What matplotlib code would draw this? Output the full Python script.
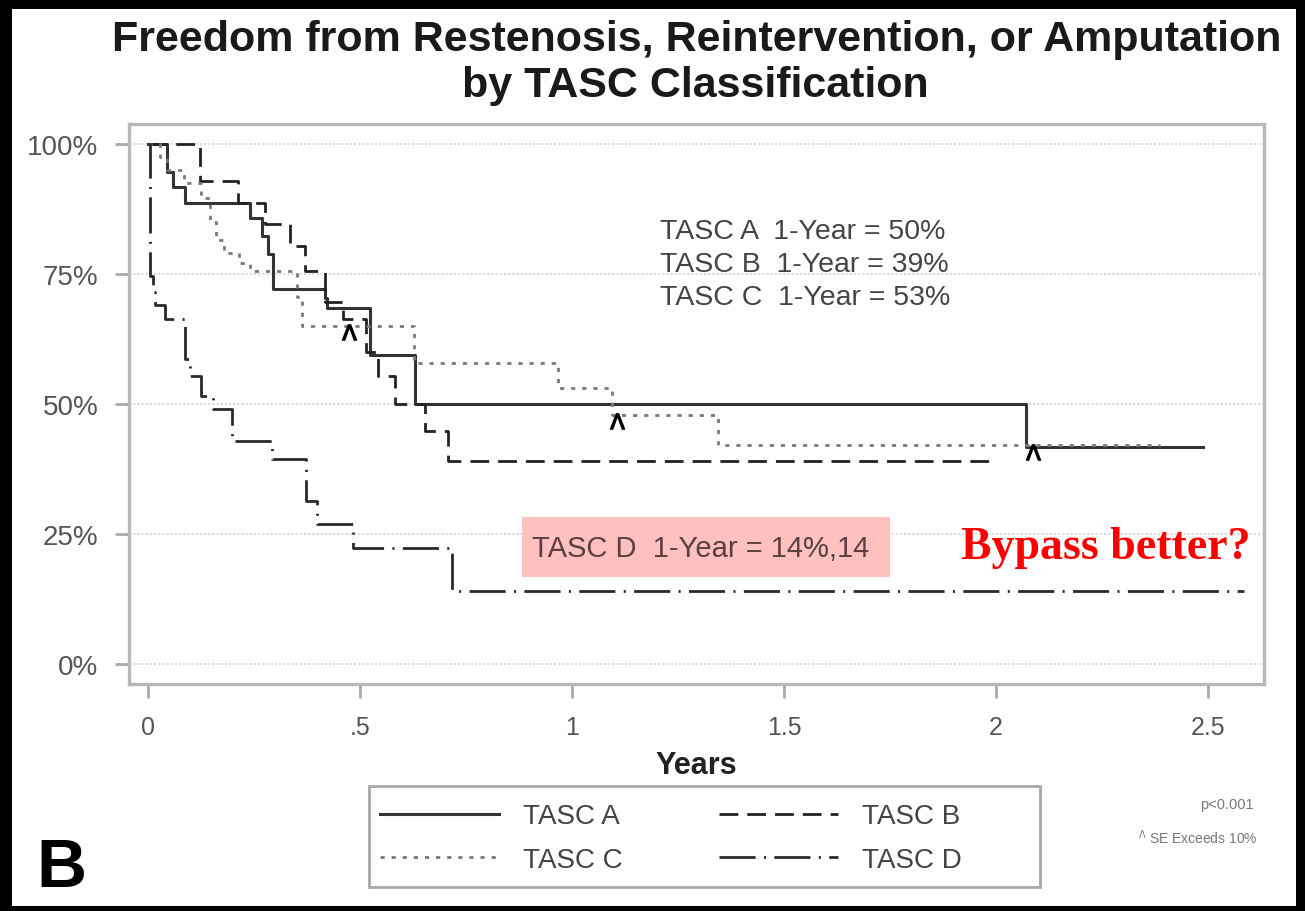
import matplotlib
matplotlib.use('Agg')
import matplotlib.pyplot as plt
from matplotlib.patches import Rectangle
from matplotlib.lines import Line2D

plt.rcParams['font.family'] = ['Liberation Sans', 'DejaVu Sans']
plt.rcParams['lines.scale_dashes'] = False

# Kaplan-Meier steps: time in years, freedom from event in %
a_t = [0, 0.045, 0.059, 0.087, 0.241, 0.269, 0.283, 0.295, 0.417, 0.422, 0.524, 0.630, 2.071, 2.488]
a_s = [100, 94.6, 91.7, 88.5, 85.6, 82.3, 78.8, 72.1, 70.2, 68.3, 59.3, 50, 41.7, 41.7]

b_t = [0, 0.123, 0.212, 0.276, 0.335, 0.370, 0.417, 0.460, 0.514, 0.542, 0.583, 0.653, 0.708, 1.99]
b_s = [100, 92.7, 88.5, 84.6, 80.2, 75.4, 69.5, 66.3, 60, 55.2, 50, 44.8, 39, 39]

c_t = [0, 0.028, 0.045, 0.085, 0.125, 0.146, 0.16, 0.18, 0.215, 0.24, 0.352, 0.363, 0.627, 0.967, 1.094, 1.344, 2.387]
c_s = [100, 97.5, 95, 92.5, 89.5, 85, 81.5, 79, 77, 75.5, 70.5, 65, 57.7, 53, 47.7, 42, 42]

d_t = [0, 0.004, 0.012, 0.017, 0.04, 0.087, 0.099, 0.125, 0.153, 0.198, 0.292, 0.372, 0.398, 0.483, 0.717, 2.585]
d_s = [100, 74.6, 71.5, 69, 66.3, 58.6, 55.2, 51.5, 49, 42.7, 39.4, 31.3, 26.9, 22.3, 14, 14]

# points where the standard error exceeds 10%
se_t = [0.474, 1.106, 2.087]
se_s = [63.8, 46.6, 40.6]

one_year = {'TASC A': 50, 'TASC B': 39, 'TASC C': 53, 'TASC D': 14}

x_ticks = [0, 0.5, 1, 1.5, 2, 2.5]
x_labels = ['0', '.5', '1', '1.5', '2', '2.5']
y_ticks = [0, 25, 50, 75, 100]
y_labels = ['0%', '25%', '50%', '75%', '100%']

W, H = 1305, 912
fig = plt.figure(figsize=(W / 100, H / 100), dpi=100, facecolor='white')
ax = fig.add_axes([129 / W, 1 - 685 / H, (1264 - 129) / W, (685 - 125) / H])

grid_col = '#d6d6d6'
for y in y_ticks:
    ax.axhline(y, color=grid_col, lw=1.3, ls=(0, (1.5, 1.5)), zorder=1)

styles = {
    'TASC A': dict(color='#333333', lw=2.2, ls='-'),
    'TASC B': dict(color='#222222', lw=2.0, ls=(0, (13.5, 6.5))),
    'TASC C': dict(color='#7a7a7a', lw=2.0, ls=(0, (3, 5))),
    'TASC D': dict(color='#2a2a2a', lw=2.0, ls=(0, (26, 6, 1.5, 6))),
}
series = {'TASC A': (a_t, a_s), 'TASC B': (b_t, b_s),
          'TASC C': (c_t, c_s), 'TASC D': (d_t, d_s)}
for name, (t, s) in series.items():
    ax.step(t, s, where='post', zorder=3, **styles[name])

ax.plot(se_t, se_s, ls='none', marker=r'$\Lambda$', ms=11, color='black', zorder=4)

ax.set_xlim(-0.0448, 2.632)
ax.set_ylim(-3.94, 103.75)
ax.set_xticks(x_ticks)
ax.set_xticklabels(x_labels)
ax.set_yticks(y_ticks)
ax.set_yticklabels(y_labels)
ax.tick_params(axis='both', colors='#aaaaaa', width=2, labelcolor='#555555')
ax.tick_params(axis='y', length=10, pad=12, labelsize=20)
ax.tick_params(axis='x', length=10, pad=12, labelsize=18)
for sp in ax.spines.values():
    sp.set_color('#b8b8b8')
    sp.set_linewidth(2.4)
ax.set_xlabel('Years', fontsize=22, fontweight='bold', color='#222222', labelpad=8)

# 1-year rates
for i, name in enumerate(['TASC A', 'TASC B', 'TASC C']):
    ax.text(1.208, 83.2 - i * 6.4, f'{name}  1-Year = {one_year[name]}%',
            fontsize=20.5, color='#444444', va='center', ha='left')

ax.add_patch(Rectangle((0.882, 16.7), 0.868, 11.5, facecolor='#ffc0c0',
                       edgecolor='none', zorder=2))
ax.text(0.906, 22.2, f"TASC D  1-Year = {one_year['TASC D']}%,14",
        fontsize=21, color='#5a4040', va='center', ha='left', zorder=5)
ax.text(2.60, 22.4, 'Bypass better?', fontsize=33, fontweight='bold',
        family=['Liberation Serif', 'DejaVu Serif'], color='#ff0000',
        va='center', ha='right', zorder=5)

# legend: frameless entries inside a hand-drawn box
handles = [Line2D([], [], **styles[n]) for n in ['TASC A', 'TASC C', 'TASC B', 'TASC D']]
leg = fig.legend(handles, ['TASC A', 'TASC C', 'TASC B', 'TASC D'], ncol=2,
                 loc='center left', bbox_to_anchor=(380 / W, 1 - 839 / H),
                 fontsize=20, handlelength=4.3, handletextpad=0.86,
                 columnspacing=3.45, frameon=False, borderpad=0,
                 borderaxespad=0, labelspacing=0.62)
for txt in leg.get_texts():
    txt.set_color('#444444')
fig.add_artist(Rectangle((369 / W, 1 - 888 / H), (1040 - 369) / W, (888 - 787) / H,
                         transform=fig.transFigure, facecolor='none',
                         edgecolor='#a8a8a8', lw=2))

fig.text(1254 / W, 1 - 805 / H, 'p<0.001', fontsize=10.5, color='#777777',
         ha='right', va='center')
fig.text(1258 / W, 1 - 838 / H, r'$^\Lambda$ SE Exceeds 10%', fontsize=10,
         color='#777777', ha='right', va='center')

fig.text(697 / W, 1 - 40 / H, 'Freedom from Restenosis, Reintervention, or Amputation',
         fontsize=31, fontweight='bold', color='#1a1a1a', ha='center', va='center')
fig.text(695 / W, 1 - 86 / H, 'by TASC Classification',
         fontsize=31, fontweight='bold', color='#1a1a1a', ha='center', va='center')
fig.text(36 / W, 1 - 869 / H, 'B', fontsize=50, fontweight='bold', color='black',
         ha='left', va='center')

# dark border around the slide
for x0, y0, w, h in [(0, 0, 12, H), (1296, 0, W - 1296, H), (0, 0, W, 10), (0, 907, W, H - 907)]:
    fig.add_artist(Rectangle((x0 / W, 1 - (y0 + h) / H), w / W, h / H,
                             transform=fig.transFigure, facecolor='black',
                             edgecolor='none', zorder=10))

fig.savefig('out.png', dpi=100)
